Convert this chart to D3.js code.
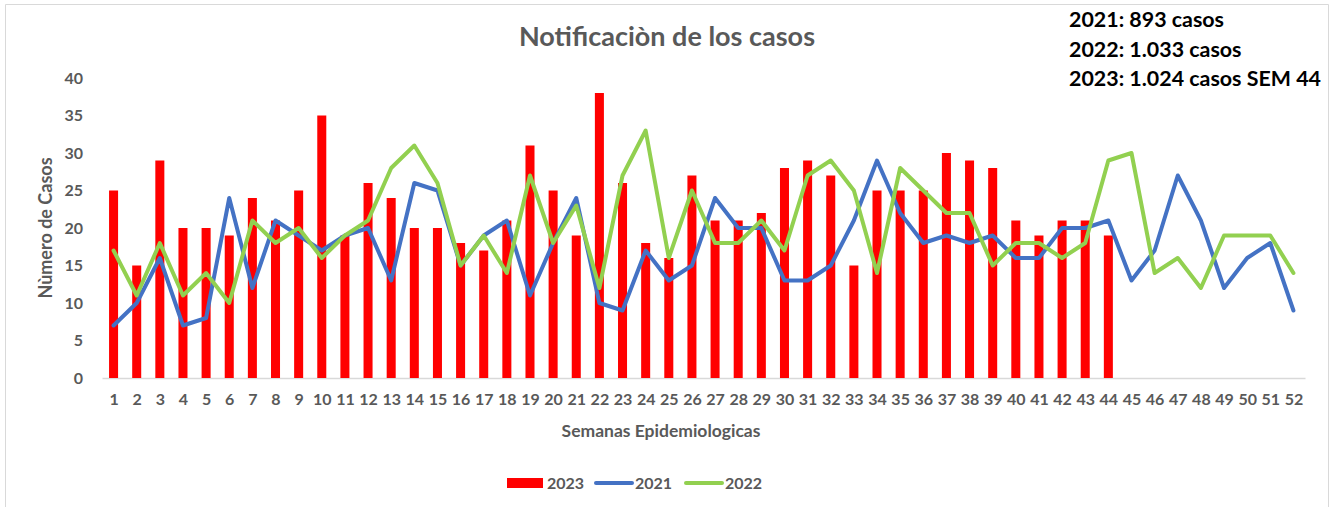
<!DOCTYPE html>
<html>
<head>
<meta charset="utf-8">
<script src="https://cdn.jsdelivr.net/npm/d3@7"></script>
<style>
  body { margin: 0; background: #fff; }
  svg { display: block; font-family: Lato, "Noto Sans", sans-serif; }
</style>
</head>
<body>
<svg id="chart"></svg>
<script>
const weeks = d3.range(1, 53);
const cases2023 = [25, 15, 29, 20, 20, 19, 24, 21, 25, 35, 19, 26, 24, 20, 20, 18, 17, 21, 31, 25, 19, 38,
  26, 18, 16, 27, 21, 21, 22, 28, 29, 27, 15, 25, 25, 25, 30, 29, 28, 21, 19, 21, 21, 19];
const cases2021 = [7, 10, 16, 7, 8, 24, 12, 21, 19, 17, 19, 20, 13, 26, 25, 15, 19, 21, 11, 18, 24, 10,
  9, 17, 13, 15, 24, 20, 20, 13, 13, 15, 21, 29, 22, 18, 19, 18, 19, 16, 16, 20, 20, 21, 13, 17, 27, 21, 12, 16, 18, 9];
const cases2022 = [17, 11, 18, 11, 14, 10, 21, 18, 20, 16, 19, 21, 28, 31, 26, 15, 19, 14, 27, 18, 23, 12,
  27, 33, 16, 25, 18, 18, 21, 17, 27, 29, 25, 14, 28, 25, 22, 22, 15, 18, 18, 16, 18, 29, 30, 14, 16, 12, 19, 19, 19, 14];
const yTicks = [0, 5, 10, 15, 20, 25, 30, 35, 40];
const notes = ["2021: 893 casos", "2022: 1.033 casos", "2023: 1.024 casos SEM 44"];
const legendItems = [
  { label: "2023", type: "bar", color: "#ff0000" },
  { label: "2021", type: "line", color: "#4472c4" },
  { label: "2022", type: "line", color: "#92d050" }
];

const width = 1338, height = 507;
const svg = d3.select("#chart").attr("width", width).attr("height", height);
const margin = { top: 78, right: 33, bottom: 129, left: 102 };
const innerWidth = width - margin.left - margin.right;
const innerHeight = height - margin.top - margin.bottom;
const grey = "#595959";

// frame
svg.append("path")
  .attr("d", "M5.5,507 V4.5 H1328.5 V507")
  .attr("fill", "none")
  .attr("stroke", "#d9d9d9");

const g = svg.append("g").attr("transform", `translate(${margin.left},${margin.top})`);

const x = d3.scaleBand().domain(weeks).range([0, innerWidth]).paddingInner(0.61).paddingOuter(0.3);
const xp = d3.scalePoint().domain(weeks).range([0, innerWidth]).padding(0.5);
const y = d3.scaleLinear().domain([0, 40]).range([innerHeight, 0]);

// AXES
const xAxis = g.append("g")
  .attr("transform", `translate(0,${innerHeight})`)
  .call(d3.axisBottom(xp).tickSize(0).tickPadding(16));
xAxis.attr("font-family", null).attr("font-size", null);
xAxis.select(".domain").attr("stroke", "#d9d9d9").attr("stroke-width", 1.5);
xAxis.selectAll("text")
  .attr("fill", grey)
  .attr("font-size", 16).attr("font-weight", "bold");

const yAxis = g.append("g")
  .call(d3.axisLeft(y).tickValues(yTicks).tickSize(0).tickPadding(19));
yAxis.attr("font-family", null).attr("font-size", null);
yAxis.select(".domain").remove();
yAxis.selectAll("text")
  .attr("fill", grey)
  .attr("font-size", 16).attr("font-weight", "bold");

// BARS (2023)
g.selectAll(".bar")
  .data(cases2023)
  .enter().append("rect")
  .attr("class", "bar")
  .attr("x", (d, i) => xp(weeks[i]) - x.bandwidth() / 2)
  .attr("y", d => y(d))
  .attr("width", x.bandwidth())
  .attr("height", d => innerHeight - y(d))
  .attr("fill", "#ff0000");

// LINES
const line = d3.line().x((d, i) => xp(weeks[i])).y(d => y(d));
[[cases2021, "#4472c4"], [cases2022, "#92d050"]].forEach(([vals, color]) => {
  g.append("path")
    .datum(vals)
    .attr("fill", "none")
    .attr("stroke", color)
    .attr("stroke-width", 4)
    .attr("stroke-linejoin", "round")
    .attr("stroke-linecap", "round")
    .attr("d", line);
});

// TITLES
svg.append("text")
  .attr("x", 667).attr("y", 46)
  .attr("text-anchor", "middle")
  .attr("fill", grey)
  .attr("font-size", 27).attr("font-weight", "bold")
  .text("Notificaciòn de los casos");

svg.append("text")
  .attr("x", 661).attr("y", 437)
  .attr("text-anchor", "middle")
  .attr("fill", grey)
  .attr("font-size", 17.5).attr("font-weight", "bold")
  .text("Semanas Epidemiologicas");

svg.append("text")
  .attr("transform", "translate(52,228) rotate(-90)")
  .attr("text-anchor", "middle")
  .attr("fill", grey)
  .attr("font-size", 18).attr("font-weight", "bold")
  .text("Nùmero de Casos");

// NOTES (top right)
svg.selectAll(".note")
  .data(notes)
  .enter().append("text")
  .attr("class", "note")
  .attr("x", 1069)
  .attr("y", (d, i) => 27 + i * 29.5)
  .attr("fill", "#000")
  .attr("font-size", 21.4).attr("font-weight", "bold")
  .text(d => d);

// LEGEND
const legendX = [507, 595, 685];
const legend = svg.selectAll(".legend")
  .data(legendItems)
  .enter().append("g")
  .attr("class", "legend")
  .attr("transform", (d, i) => `translate(${legendX[i]},483)`);
legend.filter(d => d.type === "bar").append("rect")
  .attr("x", 0).attr("y", -5).attr("width", 36).attr("height", 10)
  .attr("fill", d => d.color);
legend.filter(d => d.type === "line").append("line")
  .attr("x1", 1).attr("x2", 37).attr("y1", 0).attr("y2", 0)
  .attr("stroke", d => d.color).attr("stroke-width", 4).attr("stroke-linecap", "round");
legend.append("text")
  .attr("x", 40).attr("y", 6)
  .attr("fill", grey)
  .attr("font-size", 16).attr("font-weight", "bold")
  .text(d => d.label);
</script>
</body>
</html>
